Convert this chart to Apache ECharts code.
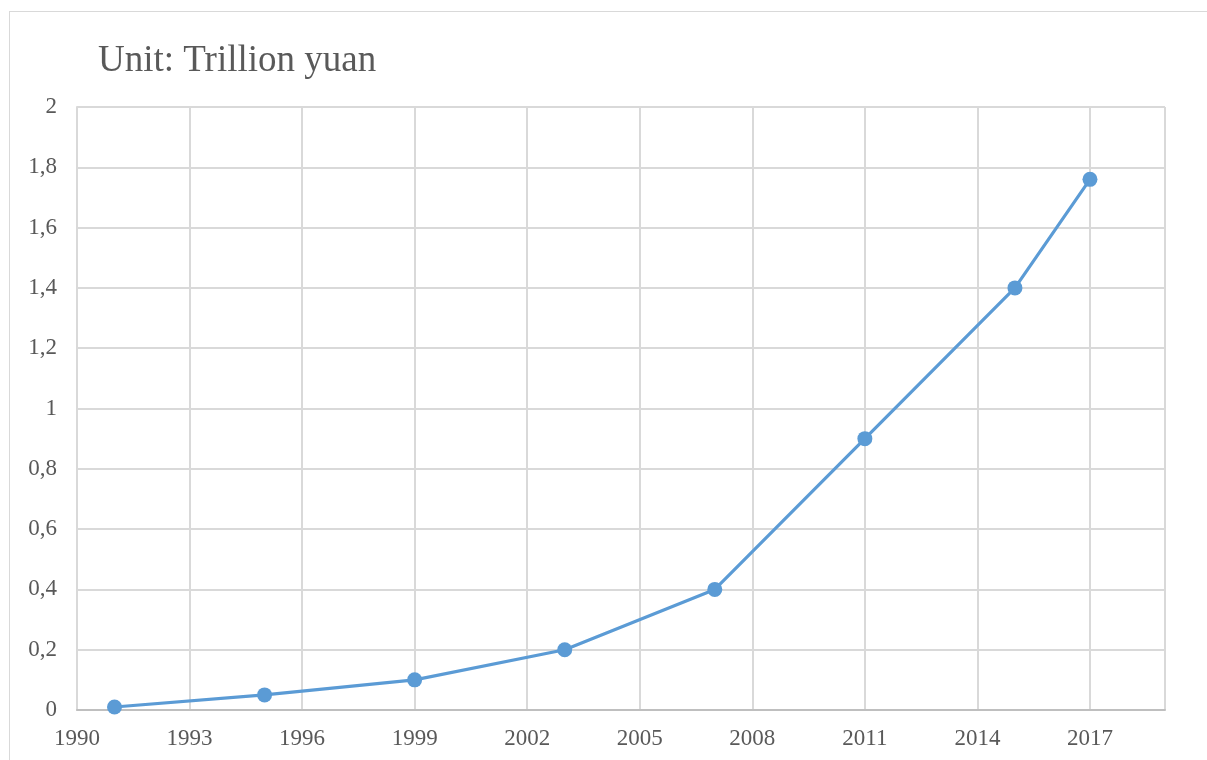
<!DOCTYPE html>
<html><head><meta charset="utf-8">
<script src="https://cdn.jsdelivr.net/npm/echarts@6/dist/echarts.min.js"></script>
<style>html,body{margin:0;padding:0;background:#fff;}#frame{position:absolute;left:9px;top:11px;width:1300px;height:800px;border:1px solid #d9d9d9;box-sizing:border-box;}#c{position:absolute;left:0;top:0;width:1207px;height:760px;}</style>
</head><body>
<div id="frame"></div>
<div id="c"></div>
<script>
const years = [1991, 1995, 1999, 2003, 2007, 2011, 2015, 2017];
const values = [0.01, 0.05, 0.1, 0.2, 0.4, 0.9, 1.4, 1.76];
const titleText = 'Unit: Trillion yuan';
const font = '"Liberation Serif","Times New Roman",serif';
const chart = echarts.init(document.getElementById('c'));
chart.setOption({
  animation: false,
  title: { text: titleText, left: 93, top: 38, textStyle: { fontFamily: font, fontSize: 37, fontWeight: 'normal', color: '#595959' } },
  grid: { left: 77, right: 42, top: 107, bottom: 50 },
  xAxis: {
    type: 'value', min: 1990, max: 2019, interval: 3,
    axisLine: { show: true, lineStyle: { color: '#bfbfbf', width: 2 } },
    axisTick: { show: false },
    axisLabel: { fontFamily: font, fontSize: 23, color: '#595959', margin: 17, showMaxLabel: false,
      formatter: v => String(v) },
    splitLine: { show: true, lineStyle: { color: '#d9d9d9', width: 2 } }
  },
  yAxis: {
    type: 'value', min: 0, max: 2, interval: 0.2,
    axisLine: { show: true, lineStyle: { color: '#d9d9d9', width: 2 } },
    axisTick: { show: false },
    axisLabel: { fontFamily: font, fontSize: 23, color: '#595959', margin: 20,
      formatter: v => String(Math.round(v * 10) / 10).replace('.', ',') },
    splitLine: { show: true, lineStyle: { color: '#d9d9d9', width: 2 } }
  },
  series: [{
    type: 'line', data: years.map((y, i) => [y, values[i]]),
    symbol: 'circle', symbolSize: 15,
    lineStyle: { color: '#5b9bd5', width: 3.2 },
    itemStyle: { color: '#5b9bd5' }
  }]
});
</script>
</body></html>
